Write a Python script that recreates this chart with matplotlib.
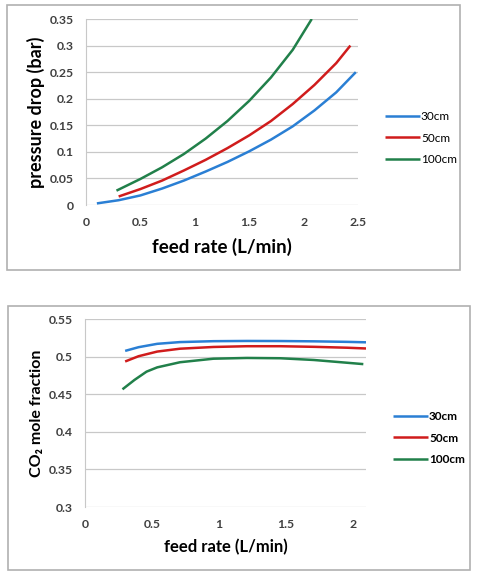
import matplotlib
matplotlib.use("Agg")
import matplotlib.pyplot as plt
from matplotlib.patches import Rectangle

plt.rcParams['font.family'] = ['Lato', 'DejaVu Sans']

# ---- data: pressure drop (bar) vs feed rate (L/min) ----
pd_x_30 = [0.1, 0.3, 0.5, 0.7, 0.9, 1.1, 1.3, 1.5, 1.7, 1.9, 2.1, 2.3, 2.48]
pd_y_30 = [0.003, 0.009, 0.018, 0.031, 0.046, 0.063, 0.081, 0.101, 0.123, 0.148, 0.178, 0.212, 0.250]
pd_x_50 = [0.3, 0.5, 0.7, 0.9, 1.1, 1.3, 1.5, 1.7, 1.9, 2.1, 2.3, 2.43]
pd_y_50 = [0.016, 0.030, 0.046, 0.065, 0.085, 0.107, 0.131, 0.158, 0.190, 0.226, 0.267, 0.300]
pd_x_100 = [0.28, 0.5, 0.7, 0.9, 1.1, 1.3, 1.5, 1.7, 1.9, 2.075]
pd_y_100 = [0.027, 0.049, 0.071, 0.096, 0.125, 0.158, 0.196, 0.240, 0.292, 0.350]

# ---- data: CO2 mole fraction vs feed rate (L/min) ----
mf_x_30 = [0.3, 0.4, 0.54, 0.71, 0.96, 1.21, 1.46, 1.71, 1.96, 2.1]
mf_y_30 = [0.5076, 0.5125, 0.5170, 0.5193, 0.5205, 0.5208, 0.5207, 0.5203, 0.5196, 0.5190]
mf_x_50 = [0.3, 0.4, 0.54, 0.71, 0.96, 1.21, 1.46, 1.71, 1.96, 2.1]
mf_y_50 = [0.4935, 0.5005, 0.5067, 0.5105, 0.5128, 0.5138, 0.5138, 0.5130, 0.5118, 0.5108]
mf_x_100 = [0.28, 0.37, 0.46, 0.54, 0.71, 0.96, 1.21, 1.46, 1.71, 1.96, 2.08]
mf_y_100 = [0.4565, 0.4690, 0.4800, 0.4857, 0.4925, 0.4972, 0.4982, 0.4978, 0.4955, 0.4918, 0.4900]

labels = ['30cm', '50cm', '100cm']
colors = ['#2a7fd4', '#d01c1c', '#21804a']

W, H = 479, 578
fig = plt.figure(figsize=(W / 100, H / 100), dpi=100)

def fx(px):
    return px / W

def fy(py):
    return 1 - py / H

# outer frames
for (x0, y0, x1, y1) in [(7, 5, 460, 270), (8, 306, 470, 570)]:
    fig.patches.append(Rectangle((fx(x0), fy(y1)), fx(x1) - fx(x0), fy(y0) - fy(y1),
                                 transform=fig.transFigure, fill=False,
                                 edgecolor='#b0b0b0', linewidth=1.2))

def style(ax):
    for s in ['top', 'right', 'bottom']:
        ax.spines[s].set_visible(False)
    ax.spines['left'].set_color('#c8c8c8')
    ax.grid(axis='y', color='#c8c8c8', linewidth=0.9)
    ax.set_axisbelow(True)
    ax.tick_params(axis='both', labelsize=8.8, colors='#404040', length=0)
    ax.tick_params(axis='x', pad=9)
    ax.tick_params(axis='y', pad=9)
    for t in ax.get_xticklabels() + ax.get_yticklabels():
        t.set_fontweight('bold')

# ---- top chart ----
ax1 = fig.add_axes([fx(86), fy(205), fx(358) - fx(86), fy(19) - fy(205)])
for xs, ys, c, l in zip([pd_x_30, pd_x_50, pd_x_100], [pd_y_30, pd_y_50, pd_y_100], colors, labels):
    ax1.plot(xs, ys, color=c, linewidth=1.8, label=l, solid_capstyle='butt',
             solid_joinstyle='round')
ax1.set_xlim(0, 2.5)
ax1.set_ylim(0, 0.35)
ax1.set_xticks([0, 0.5, 1, 1.5, 2, 2.5])
ax1.set_xticklabels(['0', '0.5', '1', '1.5', '2', '2.5'])
ax1.set_yticks([0, 0.05, 0.1, 0.15, 0.2, 0.25, 0.3, 0.35])
ax1.set_yticklabels(['0', '0.05', '0.1', '0.15', '0.2', '0.25', '0.3', '0.35'])
style(ax1)
ax1.set_xlabel('feed rate (L/min)', fontsize=13.5, fontweight='bold', labelpad=7)
ax1.set_ylabel('pressure drop (bar)', fontsize=13, fontweight='bold', labelpad=3)
ax1.legend(loc='center left', bbox_to_anchor=(1.099, 0.36), frameon=False,
           borderaxespad=0, borderpad=0,
           handlelength=3.0, handletextpad=0.05, labelspacing=0.9,
           prop={'size': 8.5})

# ---- bottom chart ----
ax2 = fig.add_axes([fx(85), fy(507), fx(366) - fx(85), fy(319) - fy(507)])
for xs, ys, c, l in zip([mf_x_30, mf_x_50, mf_x_100], [mf_y_30, mf_y_50, mf_y_100], colors, labels):
    ax2.plot(xs, ys, color=c, linewidth=1.8, label=l, solid_capstyle='butt',
             solid_joinstyle='round')
ax2.set_xlim(0, 2.1)
ax2.set_ylim(0.3, 0.55)
ax2.set_xticks([0, 0.5, 1, 1.5, 2])
ax2.set_xticklabels(['0', '0.5', '1', '1.5', '2'])
ax2.set_yticks([0.3, 0.35, 0.4, 0.45, 0.5, 0.55])
ax2.set_yticklabels(['0.3', '0.35', '0.4', '0.45', '0.5', '0.55'])
style(ax2)
ax2.set_xlabel('feed rate (L/min)', fontsize=12, fontweight='bold', labelpad=6)
ax2.set_ylabel('CO₂ mole fraction', fontsize=11.5, fontweight='bold', labelpad=3)
ax2.legend(loc='center left', bbox_to_anchor=(1.096, 0.367), frameon=False,
           borderaxespad=0, borderpad=0,
           handlelength=3.0, handletextpad=0.05, labelspacing=0.9,
           prop={'size': 8.5, 'weight': 'bold'})

fig.savefig('out.png', dpi=100)
